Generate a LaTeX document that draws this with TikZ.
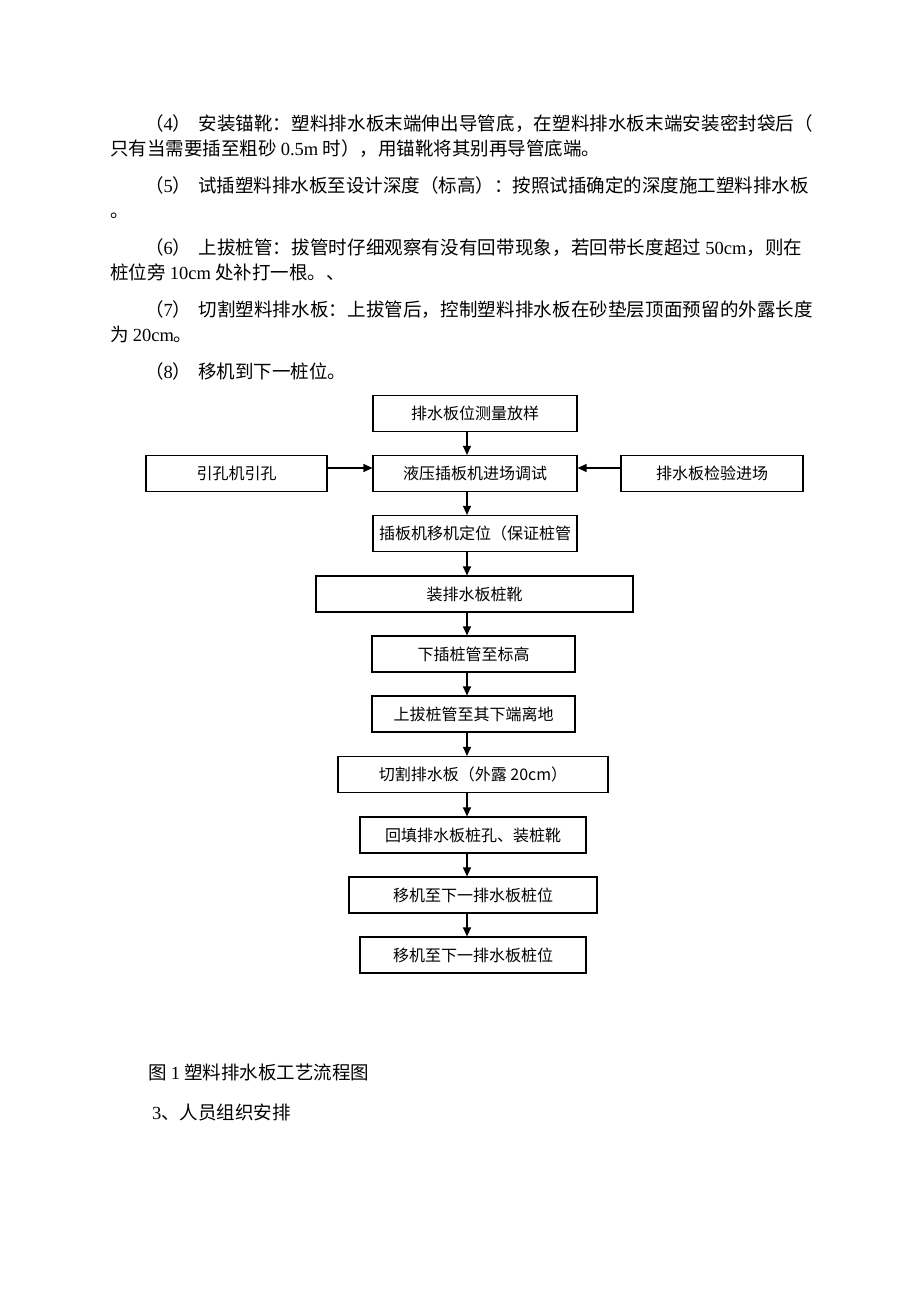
\documentclass[tikz,border=0pt]{standalone}
\usepackage{fontspec}
\setmainfont{Noto Sans CJK SC}
\newfontfamily\wide[LetterSpace=0.7]{Noto Sans CJK SC}
\newfontfamily\lat{Liberation Serif}
\usetikzlibrary{arrows.meta}

\begin{document}
\begin{tikzpicture}[x=1pt,y=-1pt]
	\tikzstyle{every node}+=[inner sep=0pt]
	\tikzstyle{box}=[draw=black, line width=1.2pt, minimum height=36pt, font=\fontsize{16}{16}\selectfont]
	\tikzstyle{para}=[anchor=base west, font=\fontsize{18.5}{18.5}\selectfont]
	\tikzstyle{arr}=[-{Triangle[length=9pt,width=8pt]}, line width=1.2pt]
	\useasboundingbox (0,0) rectangle (920,1302);
	\node [para] (p1) at (145,130) {（{\lat 4}）\hspace{7pt}{\wide 安装锚靴：塑料排水板末端伸出导管底，在塑料排水板末端安装密封袋后（}};
	\node [para] (p2) at (110,155) {只有当需要插至粗砂 {\lat 0.5m} 时），用锚靴将其别再导管底端。};
	\node [para] (p3) at (145,192) {（{\lat 5}）\hspace{7pt}试插塑料排水板至设计深度（标高）：按照试插确定的深度施工塑料排水板};
	\node [para] (p4) at (110,217) {。};
	\node [para] (p5) at (145,254) {（{\lat 6}）\hspace{7pt}{\wide 上拔桩管：拔管时仔细观察有没有回带现象，若回带长度超过} {\lat 50cm}{\wide ，则在}};
	\node [para] (p6) at (110,279) {桩位旁 {\lat 10cm} 处补打一根。、};
	\node [para] (p7) at (145,316) {（{\lat 7}）\hspace{7pt}{\wide 切割塑料排水板：上拔管后，控制塑料排水板在砂垫层顶面预留的外露长度}};
	\node [para] (p8) at (110,341) {为 {\lat 20cm}。};
	\node [para] (p9) at (145,378) {（{\lat 8}）\hspace{7pt}移机到下一桩位。};
	\coordinate (ax) at (467,0);
	\coordinate (ay) at (0,468);
	\node [box, minimum width=204pt] (b1) at (475,413.5) {排水板位测量放样};
	\node [box, minimum width=204pt] (b2) at (475,473.5) {液压插板机进场调试};
	\node [box, minimum width=181pt] (bl) at (236.5,473.5) {引孔机引孔};
	\node [box, minimum width=182pt] (br) at (712,473.5) {排水板检验进场};
	\node [box, minimum width=204pt] (b3) at (475,533.5) {插板机移机定位（保证桩管};
	\node [box, minimum width=317pt] (b4) at (474.5,594) {装排水板桩靴};
	\node [box, minimum width=203pt] (b5) at (473.5,654) {下插桩管至标高};
	\node [box, minimum width=203pt] (b6) at (473.5,714) {上拔桩管至其下端离地};
	\node [box, minimum width=270pt] (b7) at (473,774.5) {切割排水板（外露 20cm）};
	\node [box, minimum width=226pt] (b8) at (473,835) {回填排水板桩孔、装桩靴};
	\node [box, minimum width=248pt] (b9) at (473,895) {移机至下一排水板桩位};
	\node [box, minimum width=226pt] (b10) at (473,955) {移机至下一排水板桩位};
	\foreach \a/\b in {b1/b2,b2/b3,b3/b4,b4/b5,b5/b6,b6/b7,b7/b8,b8/b9,b9/b10}
		\draw [arr] (\a.south -| ax) -- (\b.north -| ax);
	\draw [arr] (bl.east |- ay) -- (b2.west |- ay);
	\draw [arr] (br.west |- ay) -- (b2.east |- ay);
	\node [para] (cap) at (148,1079) {图 {\lat 1} 塑料排水板工艺流程图};
	\node [para] (sec) at (152,1119) {{\lat 3}、人员组织安排};
\end{tikzpicture}
\end{document}
